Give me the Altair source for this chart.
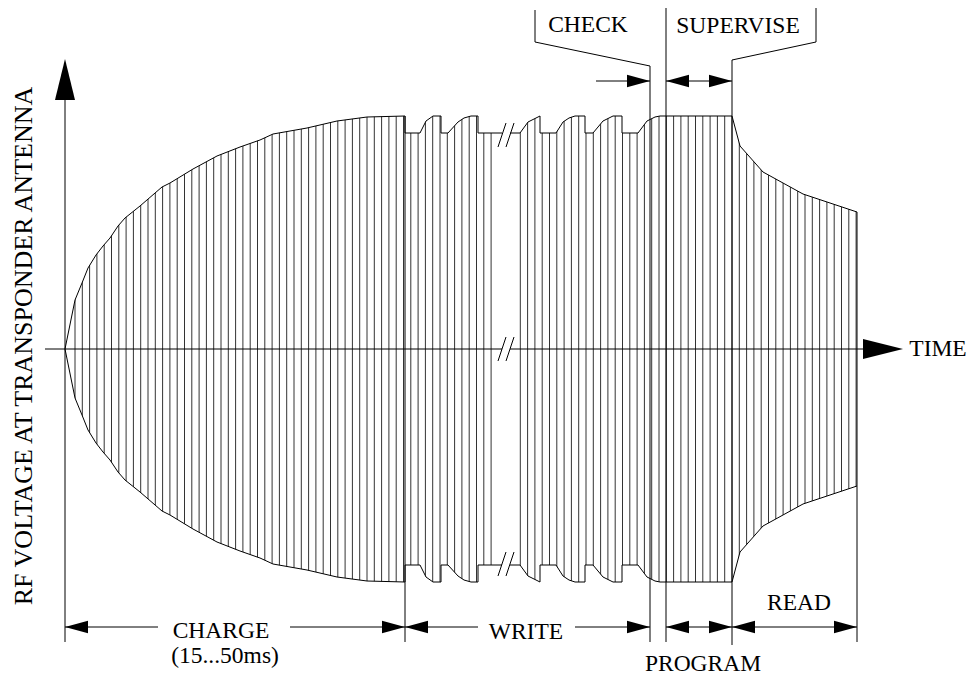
import altair as alt
import pandas as pd

# ---------------- data ----------------
# Upper envelope of the RF voltage: time t, amplitude v (the lower envelope mirrors it).
# Segment a: charge + first write pulses (up to the break), segment b: after the break.
env_a_t = [0, 10, 17, 23, 31, 38, 45, 53, 60, 75, 97, 105, 128, 152, 175, 195, 208, 242, 272, 302, 340,
           340, 355, 361, 368, 376, 376, 383, 393, 399, 406, 413, 413, 437]
env_a_v = [0, 49, 66, 81, 94, 103, 111, 123, 131, 143, 162, 166, 180, 193, 202, 209, 215, 221, 228, 232, 233,
           216, 216, 228, 233, 233, 216, 216, 227, 231, 233, 233, 216, 216]
env_b_t = [445, 455, 463, 473, 475, 475, 491, 498, 504, 510, 520, 520, 528, 538, 548, 557, 557, 573, 582, 590, 595,
           667, 675, 698, 738, 792]
env_b_v = [216, 216, 227, 232, 233, 216, 216, 227, 231, 233, 233, 216, 216, 228, 233, 233, 216, 216, 228, 232, 233,
           233, 203, 177, 155, 137]

# phase boundaries on the time axis
t_charge_end = 340
t_write_end = 585
t_program_start = 601
t_program_end = 667
t_read_end = 792

# break marks ("//") centres
break_t = [437, 445]
break_v = [214, 0, -215]

# labels
label_text = ["CHARGE", "(15...50ms)", "WRITE", "READ", "PROGRAM", "CHECK", "SUPERVISE", "TIME"]
label_t = [156, 160, 461, 734, 638, 523, 673, 873]
label_v = [-289, -314, -290, -261, -322, 317, 316, -7]
y_title = "RF VOLTAGE AT TRANSPONDER ANTENNA"

# ---------------- scales ----------------
xs = alt.Scale(domain=[-57, 903], nice=False, zero=False)
ys = alt.Scale(domain=[-326, 341], nice=False, zero=False)
X = lambda f: alt.X(f, scale=xs, axis=None)
Y = lambda f: alt.Y(f, scale=ys, axis=None)

rows = []
for seg, ts, vs in [("a", env_a_t, env_a_v), ("b", env_b_t, env_b_v)]:
    for i, (t, v) in enumerate(zip(ts, vs)):
        rows.append(dict(seg=seg, i=i, t=t, up=v, lo=-v))
env = pd.DataFrame(rows)

# hatching (vertical lines filling the envelope)
hatch = alt.Chart(alt.sequence(10, t_read_end, 7.3, as_="t")).transform_filter(
    "datum.t < 430 || datum.t > 452"
).mark_rule(color="#333333", strokeWidth=1).encode(
    x=X("t:Q"), y=alt.YDatum(-233, scale=ys, axis=None), y2=alt.datum(233)
)

# white masks outside the envelope
mask_up = alt.Chart(env).mark_area(color="white", opacity=1).encode(
    x=X("t:Q"), y=Y("up:Q"), y2=alt.datum(237)
)
mask_lo = alt.Chart(env).mark_area(color="white", opacity=1).encode(
    x=X("t:Q"), y=Y("lo:Q"), y2=alt.datum(-237)
)

outline = alt.Chart(env).transform_fold(["up", "lo"], as_=["side", "v"]).mark_line(
    color="black", strokeWidth=1
).encode(
    x=X("t:Q"), y=Y("v:Q"), detail=["seg:N", "side:N"], order=alt.Order("i:Q")
)

# straight segments: axes, extension lines, leaders, dimension shafts, break marks
segs = []
def seg(t, v, t2, v2):
    segs.append(dict(t=t, v=v, t2=t2, v2=v2))

seg(-20, 0, break_t[0], 0)
seg(break_t[1], 0, 800, 0)
seg(0, 250, 0, -293)
seg(t_charge_end, 233, t_charge_end, -293)
seg(t_write_end, 283, t_write_end, -293)
seg(t_program_start, 341, t_program_start, -293)
seg(t_program_end, 289, t_program_end, -296)
seg(t_read_end, 137, t_read_end, -293)
seg(470, 339, 470, 307)
seg(470, 307, t_write_end, 283)
seg(751, 341, 751, 307)
seg(751, 307, t_program_end, 289)
dim_v = -278
seg(0, dim_v, 93, dim_v)
seg(225, dim_v, t_charge_end, dim_v)
seg(t_charge_end, dim_v, 413, dim_v)
seg(510, dim_v, t_write_end, dim_v)
seg(t_program_start, dim_v, t_program_end, dim_v)
seg(t_program_end, dim_v, t_read_end, dim_v)
seg(531, 268, t_write_end, 268)
seg(t_program_start, 268, t_program_end, 268)
for bt in break_t:
    for bv in break_v:
        seg(bt - 4, bv - 12, bt + 4, bv + 12)
segs = pd.DataFrame(segs)

lines = alt.Chart(segs).mark_rule(color="black", strokeWidth=1).encode(
    x=X("t:Q"), y=Y("v:Q"), x2="t2:Q", y2="v2:Q"
)

# arrowheads
R = "M0,0L-1,-0.27L-1,0.27Z"
L = "M0,0L1,-0.27L1,0.27Z"
heads = pd.DataFrame([
    dict(t=0, v=dim_v, p=L, s=2116),
    dict(t=t_charge_end, v=dim_v, p=R, s=2116),
    dict(t=t_charge_end, v=dim_v, p=L, s=2116),
    dict(t=t_write_end, v=dim_v, p=R, s=2116),
    dict(t=t_program_start, v=dim_v, p=L, s=2116),
    dict(t=t_program_end, v=dim_v, p=R, s=2116),
    dict(t=t_program_end, v=dim_v, p=L, s=2116),
    dict(t=t_read_end, v=dim_v, p=R, s=2116),
    dict(t=t_write_end, v=268, p=R, s=2116),
    dict(t=t_program_start, v=268, p=L, s=2116),
    dict(t=t_program_end, v=268, p=R, s=2116),
    dict(t=838, v=0, p="M0,0L-1,-0.25L-1,0.25Z", s=6400),
    dict(t=0, v=290, p="M0,0L-0.244,1L0.244,1Z", s=6724),
])
arrows = alt.Chart(heads).mark_point(filled=True, color="black", opacity=1, strokeWidth=0).encode(
    x=X("t:Q"), y=Y("v:Q"),
    shape=alt.Shape("p:N", scale=None, legend=None),
    size=alt.Size("s:Q", scale=None, legend=None),
)

labels = pd.DataFrame(dict(text=label_text, t=label_t, v=label_v))
texts = alt.Chart(labels).mark_text(
    font="Liberation Serif", fontSize=23.5, color="black", align="center", baseline="alphabetic"
).encode(x=X("t:Q"), y=Y("v:Q"), text="text:N")

ytitle = alt.Chart(pd.DataFrame(dict(text=[y_title], t=[-33], v=[3]))).mark_text(
    font="Liberation Serif", fontSize=26, color="black", align="center", baseline="alphabetic", angle=270
).encode(x=X("t:Q"), y=Y("v:Q"), text="text:N")

chart = alt.layer(hatch, mask_up, mask_lo, outline, lines, arrows, texts, ytitle).properties(
    width=960, height=667, padding=0, autosize="none", background="white"
).configure_view(stroke=None)

chart.save("out.html", embed_options={"renderer": "svg", "actions": False})
